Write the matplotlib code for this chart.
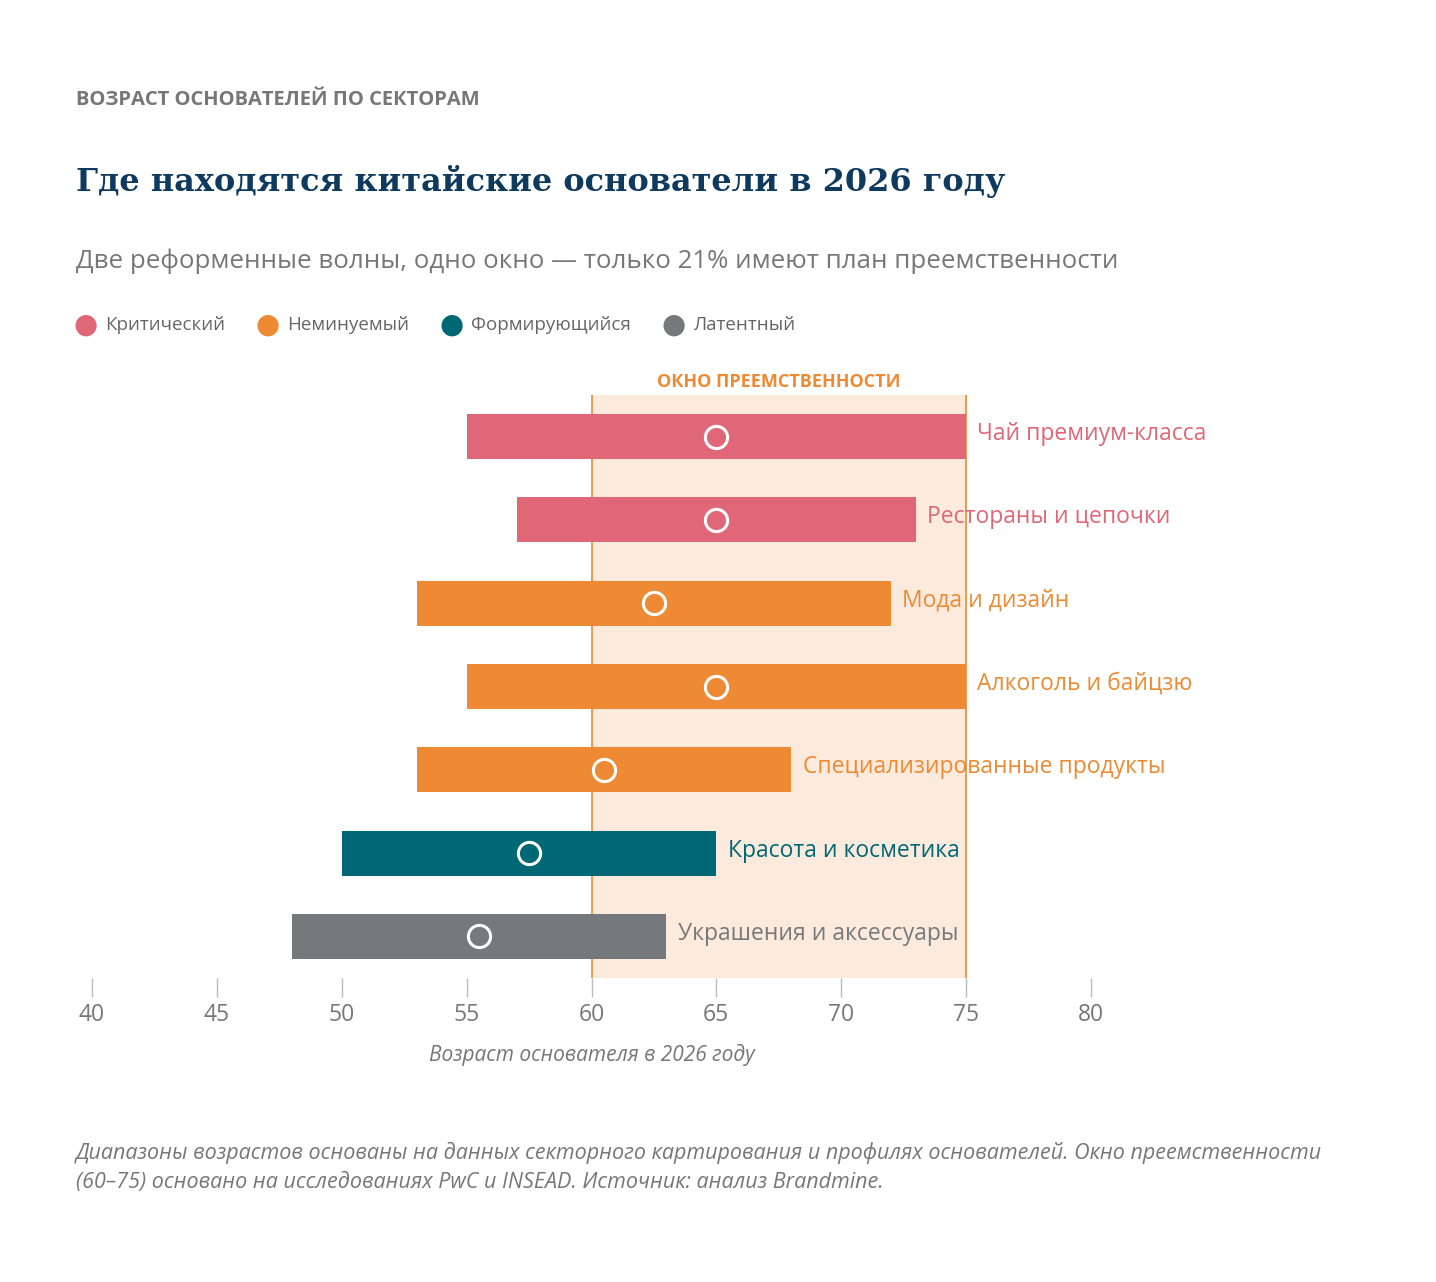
import matplotlib
matplotlib.use("Agg")
import matplotlib.pyplot as plt

sectors = ["Чай премиум-класса", "Рестораны и цепочки", "Мода и дизайн", "Алкоголь и байцзю",
           "Специализированные продукты", "Красота и косметика", "Украшения и аксессуары"]
age_min = [55, 57, 53, 55, 53, 50, 48]
age_max = [75, 73, 72, 75, 68, 65, 63]
age_median = [65, 65, 62.5, 65, 60.5, 57.5, 55.5]
groups = ["Критический", "Критический", "Неминуемый", "Неминуемый", "Неминуемый", "Формирующийся", "Латентный"]
legend_labels = ["Критический", "Неминуемый", "Формирующийся", "Латентный"]
colors = {"Критический": "#E06777", "Неминуемый": "#EE8A33", "Формирующийся": "#006775", "Латентный": "#76797B"}
ticks = [40, 45, 50, 55, 60, 65, 70, 75, 80]

plt.rcParams['font.family'] = ['Open Sans', 'DejaVu Sans']
W, H = 1436, 1282
fig = plt.figure(figsize=(W/100, H/100), dpi=100)
ax = fig.add_axes([92/W, 1 - 978/H, 999/W, (978-395)/H])
ax.set_xlim(40, 80)
ax.set_ylim(6.5, -0.5)
ax.axvspan(60, 75, color="#FCEADC", zorder=0)
for x in (60, 75):
    ax.axvline(x, color="#EE8A33", lw=1.2, zorder=1)
for i, s in enumerate(sectors):
    c = colors[groups[i]]
    ax.barh(i, age_max[i]-age_min[i], left=age_min[i], height=0.54, color=c, zorder=2)
    ax.plot(age_median[i], i, 'o', ms=16, mfc="none", mec="white", mew=2.2, zorder=3)
    ax.text(age_max[i] + 0.45, i - 0.03, s, color=c, fontsize=16.5, va="center", ha="left", zorder=4)
for sp in ax.spines.values():
    sp.set_visible(False)
ax.set_yticks([])
ax.set_xticks(ticks)
ax.tick_params(axis='x', length=14, width=1, color="#BBBBBB", labelsize=16.5, labelcolor="#777777", pad=4)
ax.set_xlabel("Возраст основателя в 2026 году", fontsize=15, style="italic", color="#777777", labelpad=12)
ax.text(67.5, -0.55, "ОКНО ПРЕЕМСТВЕННОСТИ", color="#EE8A33", fontsize=13, fontweight="bold",
        ha="center", va="bottom")

fig.text(76/W, 1 - 100/H, "ВОЗРАСТ ОСНОВАТЕЛЕЙ ПО СЕКТОРАМ", fontsize=14.5, fontweight="bold",
         color="#777777", va="center")
fig.text(76/W, 1 - 182/H, "Где находятся китайские основатели в 2026 году", fontsize=23,
         fontweight="bold", color="#0E3A5F", va="center", family=["DejaVu Serif"])
fig.text(76/W, 1 - 261/H, "Две реформенные волны, одно окно — только 21% имеют план преемственности",
         fontsize=18.6, color="#777777", va="center")
lx = [86, 268, 452, 674]
for x, lab in zip(lx, legend_labels):
    fig.text(x/W, 1 - 326/H, "●", fontsize=20, color=colors[lab], va="center", ha="center")
    fig.text((x+19)/W, 1 - 325/H, lab, fontsize=13.5, color="#666666", va="center")
fig.text(76/W, 1 - 1167/H,
         "Диапазоны возрастов основаны на данных секторного картирования и профилях основателей. Окно преемственности\n(60–75) основано на исследованиях PwC и INSEAD. Источник: анализ Brandmine.",
         fontsize=15.5, style="italic", color="#777777", va="center", linespacing=1.5)
fig.savefig("out.png", dpi=100, facecolor="white")
